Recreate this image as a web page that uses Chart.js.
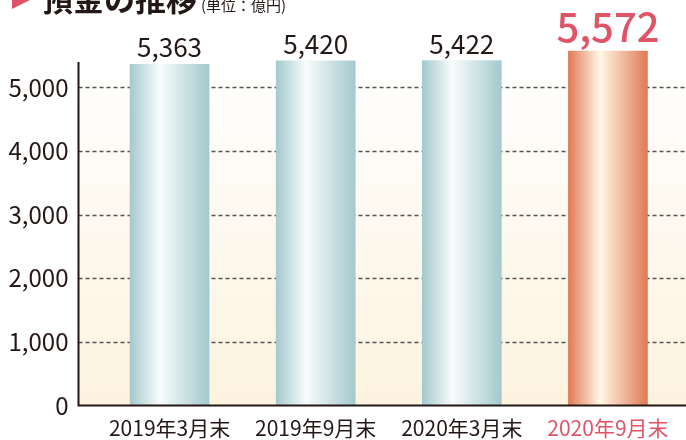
<!DOCTYPE html>
<html lang="ja">
<head>
<meta charset="utf-8">
<script src="https://cdn.jsdelivr.net/npm/chart.js@4.4.0/dist/chart.umd.min.js"></script>
<style>
    html, body { margin: 0; padding: 0; background: #ffffff; overflow: hidden; }
    #wrap { position: relative; width: 686px; height: 440px; overflow: hidden; }
    #chartBox { position: absolute; left: 0; top: 0; width: 686px; height: 440px; }
    .mark {
        position: absolute; left: 12px; top: -13px; width: 0; height: 0;
        border-top: 11px solid transparent; border-bottom: 11px solid transparent;
        border-left: 22px solid #e0506a;
    }
    .title {
        position: absolute; left: 42px; top: -18px; white-space: nowrap;
        font-family: "Noto Sans CJK JP", sans-serif; color: #231815;
        font-size: 31px; font-weight: 700; line-height: 1;
    }
    .title small { font-size: 15px; font-weight: 400; margin-left: 4px; }
</style>
</head>
<body>
<div id="wrap">
    <div id="chartBox"><canvas id="depositChart"></canvas></div>
    <div class="mark"></div>
    <div class="title">預金の推移<small>(単位：億円)</small></div>
</div>
<script>
// Deposit balance (units: 100 million yen)
const categories = ['2019年3月末', '2019年9月末', '2020年3月末', '2020年9月末'];
const deposits = [5363, 5420, 5422, 5572];
const yTicks = [0, 1000, 2000, 3000, 4000, 5000];

const FONT = '"Noto Sans CJK JP", "Noto Sans", sans-serif';
const INK = '#231815';
const RED = '#e05468';
const AXIS_GAP = 18; // y axis line sits left of the first category slot
const BAR_W = 79;

function barGradient(ctx) {
    const chart = ctx.chart;
    const xs = chart.scales.x;
    if (!chart.chartArea || !xs) return '#a9cdd1';
    const cx = xs.getPixelForValue(ctx.dataIndex);
    const g = chart.ctx.createLinearGradient(cx - BAR_W / 2, 0, cx + BAR_W / 2, 0);
    if (ctx.dataIndex === deposits.length - 1) {
        g.addColorStop(0, '#e07a55');
        g.addColorStop(0.4, '#fff8e6');
        g.addColorStop(1, '#e07a55');
    } else {
        g.addColorStop(0, '#a4c9cd');
        g.addColorStop(0.38, '#f8fcfc');
        g.addColorStop(1, '#a4c9cd');
    }
    return g;
}

// background, dashed grid and axis lines
const frame = {
    id: 'frame',
    beforeDatasetsDraw(chart) {
        const { ctx, chartArea, scales } = chart;
        const left = chartArea.left - AXIS_GAP;
        const right = chart.width;
        const bg = ctx.createLinearGradient(0, chartArea.top, 0, chartArea.bottom);
        bg.addColorStop(0, '#ffffff');
        bg.addColorStop(1, '#fdf3df');
        ctx.save();
        ctx.fillStyle = bg;
        ctx.fillRect(left, chartArea.top, right - left, chartArea.bottom - chartArea.top);

        ctx.strokeStyle = '#555555';
        ctx.lineWidth = 1.5;
        ctx.setLineDash([4, 3]);
        yTicks.forEach(v => {
            if (v === 0) return;
            const y = Math.round(scales.y.getPixelForValue(v)) + 0.5;
            ctx.beginPath();
            ctx.moveTo(left, y);
            ctx.lineTo(right, y);
            ctx.stroke();
        });
        ctx.restore();
    },
    afterDatasetsDraw(chart) {
        const { ctx, chartArea } = chart;
        const left = chartArea.left - AXIS_GAP;
        ctx.save();
        ctx.strokeStyle = INK;
        ctx.lineWidth = 2;
        ctx.beginPath();
        ctx.moveTo(left, chartArea.top);
        ctx.lineTo(left, chartArea.bottom);
        ctx.lineTo(chart.width, chartArea.bottom);
        ctx.stroke();

        // value labels
        const meta = chart.getDatasetMeta(0);
        ctx.textAlign = 'center';
        ctx.textBaseline = 'alphabetic';
        meta.data.forEach((bar, i) => {
            const last = i === deposits.length - 1;
            ctx.fillStyle = last ? RED : INK;
            ctx.font = (last ? '500 40px ' : '400 26px ') + FONT;
            ctx.fillText(deposits[i].toLocaleString('en-US'), bar.x, bar.y - (last ? 9 : 7));
        });
        ctx.restore();
    }
};

new Chart(document.getElementById('depositChart').getContext('2d'), {
    type: 'bar',
    data: {
        labels: categories,
        datasets: [{
            data: deposits,
            backgroundColor: barGradient,
            borderWidth: 0,
            barThickness: BAR_W,
            clip: false
        }]
    },
    options: {
        responsive: true,
        maintainAspectRatio: false,
        animation: false,
        layout: { padding: { top: 62, right: 5, left: 0, bottom: 0 } },
        plugins: {
            legend: { display: false },
            tooltip: { enabled: false }
        },
        scales: {
            x: {
                grid: { display: false, drawTicks: false },
                border: { display: false },
                afterFit(scale) { scale.height = 33; },
                ticks: {
                    padding: 10,
                    font: { family: FONT, size: 21 },
                    color: c => c.index === categories.length - 1 ? RED : INK
                }
            },
            y: {
                min: 0,
                max: 5400,
                grid: { display: false },
                border: { display: false },
                afterFit(scale) { scale.width = 96.5; },
                afterBuildTicks(scale) { scale.ticks = yTicks.map(v => ({ value: v })); },
                ticks: {
                    padding: 20,
                    font: { family: FONT, size: 24 },
                    color: INK,
                    callback: v => v.toLocaleString('en-US')
                }
            }
        }
    },
    plugins: [frame]
});
</script>
</body>
</html>
